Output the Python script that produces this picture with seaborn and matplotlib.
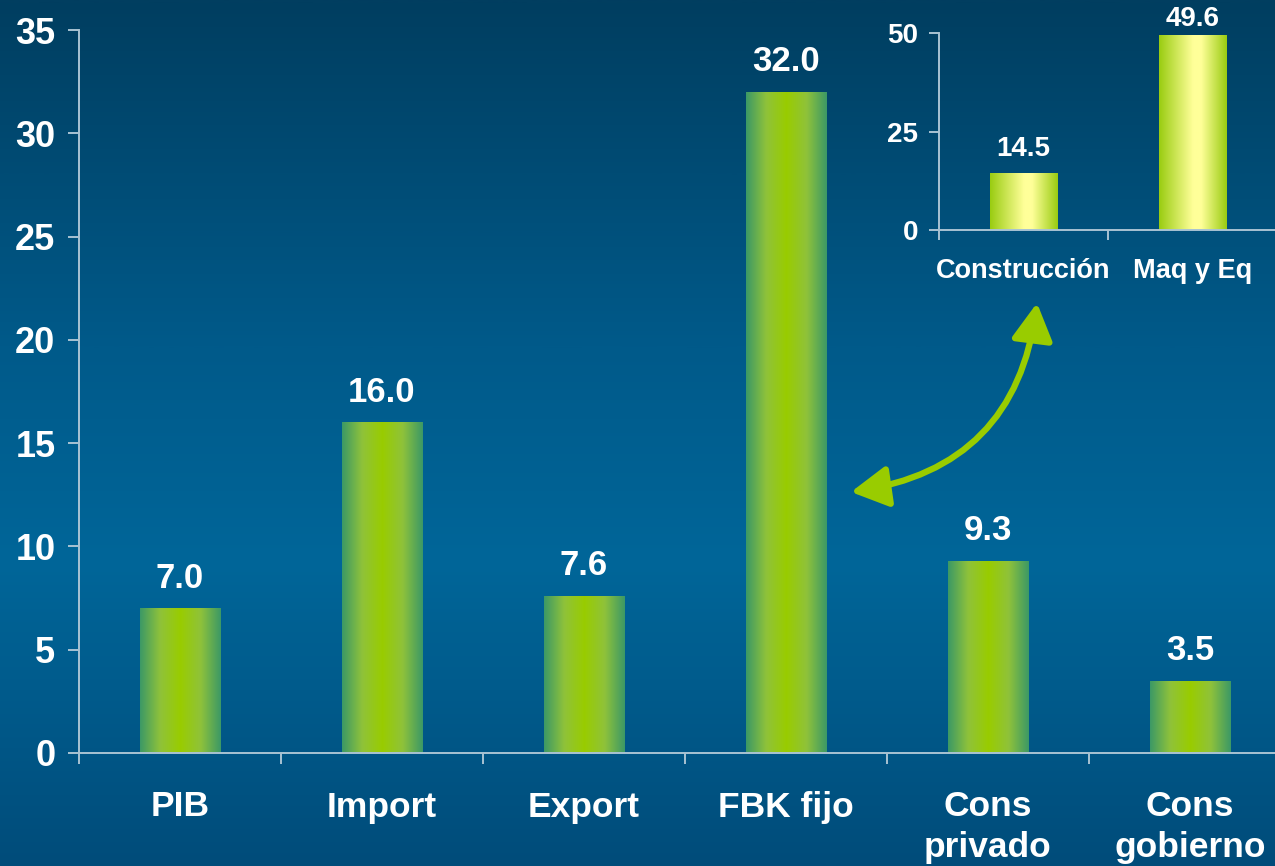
import numpy as np
import pandas as pd
import matplotlib
matplotlib.use("Agg")
import matplotlib.pyplot as plt
from matplotlib.colors import LinearSegmentedColormap
import seaborn as sns

# ---- data ----
categories = ["PIB", "Import", "Export", "FBK fijo", "Cons\nprivado", "Cons\ngobierno"]
values = [7.0, 16.0, 7.6, 32.0, 9.3, 3.5]
inset_categories = ["Construcción", "Maq y Eq"]
inset_values = [14.5, 49.6]
main_yticks = [0, 5, 10, 15, 20, 25, 30, 35]
inset_yticks = [0, 25, 50]

sns.set_theme(style="white")
plt.rcParams["font.family"] = ["Liberation Sans", "DejaVu Sans"]
plt.rcParams["font.weight"] = "bold"

W, H = 1275, 866
fig = plt.figure(figsize=(W / 100, H / 100), dpi=100)

# background gradient
bg = fig.add_axes([0, 0, 1, 1], zorder=-10)
bg_cmap = LinearSegmentedColormap.from_list(
    "bg", [(0.0, "#004c7a"), (0.35, "#006699"), (0.6, "#005a8a"), (1.0, "#013e60")])
grad = np.linspace(0, 1, 512).reshape(-1, 1)
bg.imshow(grad, aspect="auto", cmap=bg_cmap, extent=[0, 1, 0, 1], origin="lower")
bg.set_axis_off()

spine_col = "#a9c3d3"
bar_cmap = LinearSegmentedColormap.from_list(
    "bar", [(0.0, "#3c9966"), (0.25, "#8fc23a"), (0.5, "#99cc00"), (0.75, "#8fc23a"), (1.0, "#3c9966")])
inset_cmap = LinearSegmentedColormap.from_list(
    "ibar", [(0.0, "#99cc11"), (0.5, "#ffff99"), (0.62, "#ffff99"), (1.0, "#99cc11")])


def gradient_bars(ax, cmap):
    hgrad = np.linspace(0, 1, 256).reshape(1, -1)
    for p in ax.patches:
        x0, y0 = p.get_x(), p.get_y()
        w, h = p.get_width(), p.get_height()
        im = ax.imshow(hgrad, aspect="auto", cmap=cmap,
                       extent=[x0, x0 + w, y0, y0 + h], zorder=2)
        im.set_clip_path(p)
        p.set_facecolor("none")
        p.set_edgecolor("none")


def style_axes(ax, n, ylim, yticks, fs_tick, fs_cat, cat_pad, tick_len, ylab_pad):
    ax.set_xlim(-0.5, n - 0.5)
    ax.set_ylim(*ylim)
    ax.patch.set_visible(False)
    for s in ["top", "right"]:
        ax.spines[s].set_visible(False)
    for s in ["left", "bottom"]:
        ax.spines[s].set_color(spine_col)
        ax.spines[s].set_linewidth(1.4)
    ax.set_yticks(yticks)
    ax.set_yticklabels([str(t) for t in yticks], fontsize=fs_tick,
                       fontweight="bold", color="white")
    ax.tick_params(axis="y", direction="out", length=tick_len, width=1.4,
                   color=spine_col, pad=ylab_pad, left=True)
    ax.set_xticks(range(n))
    ax.tick_params(axis="x", which="major", length=0, pad=cat_pad,
                   labelsize=fs_cat, labelcolor="white")
    for lab in ax.get_xticklabels():
        lab.set_fontweight("bold")
        lab.set_linespacing(1.3)
    ax.set_xticks(np.arange(-0.5, n, 1.0), minor=True)
    ax.tick_params(axis="x", which="minor", direction="out", length=tick_len,
                   width=1.4, color=spine_col, bottom=True)
    ax.set_xlabel("")
    ax.set_ylabel("")
    ax.grid(False)


# ---- main chart ----
ax = fig.add_axes([79 / W, (H - 753) / H, 1212 / W, 723 / H])
df = pd.DataFrame({"cat": categories, "val": values})
sns.barplot(data=df, x="cat", y="val", ax=ax, width=0.4, color="#99cc00",
            saturation=1, errorbar=None)
style_axes(ax, len(categories), (0, 35), main_yticks, 26, 25.5, 27, 8, 9)
gradient_bars(ax, bar_cmap)
for i, v in enumerate(values):
    ax.annotate(f"{v:.1f}", (i, v), xytext=(0, 10), textcoords="offset points",
                ha="center", va="bottom", fontsize=25, fontweight="bold",
                color="white", annotation_clip=False)

# ---- inset chart ----
axi = fig.add_axes([939 / W, (H - 230) / H, 338 / W, 197 / H])
dfi = pd.DataFrame({"cat": inset_categories, "val": inset_values})
sns.barplot(data=dfi, x="cat", y="val", ax=axi, width=0.4, color="#ffff99",
            saturation=1, errorbar=None)
style_axes(axi, len(inset_categories), (0, 50), inset_yticks, 20, 19.5, 20, 7, 8)
gradient_bars(axi, inset_cmap)
inset_pads = [8, 2]
for i, v in enumerate(inset_values):
    axi.annotate(f"{v:.1f}", (i, v), xytext=(0, inset_pads[i]), textcoords="offset points",
                 ha="center", va="bottom", fontsize=20, fontweight="bold",
                 color="white", annotation_clip=False)

# ---- curved double arrow ----
ax.annotate("", xy=(851, H - 492), xytext=(1037, H - 303),
            xycoords="figure pixels", textcoords="figure pixels",
            arrowprops=dict(arrowstyle="<|-|>,head_length=0.9,head_width=0.5",
                            connectionstyle="arc3,rad=-0.38",
                            color="#99cc00", lw=4.5, mutation_scale=25,
                            shrinkA=0, shrinkB=0),
            annotation_clip=False)

fig.savefig("out.png", dpi=100)
